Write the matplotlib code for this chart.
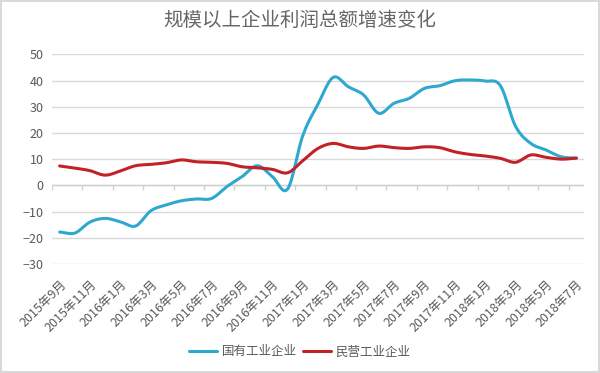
import matplotlib
matplotlib.use("Agg")
import matplotlib.pyplot as plt
import numpy as np

plt.rcParams['font.family'] = ['Noto Sans CJK SC', 'DejaVu Sans']

# monthly, 2015-9 .. 2018-7
months = ["2015年9月", "2015年10月", "2015年11月", "2015年12月",
          "2016年1月", "2016年2月", "2016年3月", "2016年4月", "2016年5月", "2016年6月",
          "2016年7月", "2016年8月", "2016年9月", "2016年10月", "2016年11月", "2016年12月",
          "2017年1月", "2017年2月", "2017年3月", "2017年4月", "2017年5月", "2017年6月",
          "2017年7月", "2017年8月", "2017年9月", "2017年10月", "2017年11月", "2017年12月",
          "2018年1月", "2018年2月", "2018年3月", "2018年4月", "2018年5月", "2018年6月",
          "2018年7月"]

soe = [-17.8, -18.2, -14.0, -12.6, -13.9, -15.5, -9.7, -7.5, -5.9, -5.2,
       -5.0, -0.5, 3.3, 7.5, 3.3, -1.4, 19.0, 31.0, 41.2, 37.6,
       34.5, 27.5, 31.3, 33.2, 37.0, 38.0, 39.9, 40.2, 39.8, 38.0,
       22.5, 16.0, 13.5, 10.9, 10.4]

private = [7.4, 6.6, 5.6, 3.9, 5.5, 7.5, 8.0, 8.6, 9.7, 9.0,
           8.8, 8.4, 7.1, 6.7, 6.1, 4.8, 9.4, 14.1, 16.0, 14.7,
           14.1, 15.0, 14.4, 14.1, 14.7, 14.4, 12.8, 11.8, 11.2, 10.3,
           8.8, 11.6, 10.7, 10.0, 10.4]

names = ["国有工业企业", "民营工业企业"]
colors = ["#2fa8d0", "#c42127"]


def smooth(y, n=12):
    # catmull-rom curve through the points, like Excel's smoothed line
    y = np.asarray(y, float)
    x = np.arange(len(y), dtype=float)
    P = np.concatenate([[2 * y[0] - y[1]], y, [2 * y[-1] - y[-2]]])
    xs, ys = [], []
    t = np.linspace(0, 1, n, endpoint=False)
    for i in range(len(y) - 1):
        p0, p1, p2, p3 = P[i], P[i + 1], P[i + 2], P[i + 3]
        seg = 0.5 * (2 * p1 + (-p0 + p2) * t + (2 * p0 - 5 * p1 + 4 * p2 - p3) * t ** 2
                     + (-p0 + 3 * p1 - 3 * p2 + p3) * t ** 3)
        xs.extend(x[i] + t)
        ys.extend(seg)
    xs.append(x[-1])
    ys.append(y[-1])
    return np.array(xs), np.array(ys)


fig = plt.figure(figsize=(6, 3.73), dpi=100)
ax = fig.add_axes([52 / 600, 1 - 264 / 373, 532 / 600, (264 - 54.3) / 373])

for vals, name, c in zip([soe, private], names, colors):
    sx, sy = smooth(vals)
    ax.plot(sx, sy, color=c, lw=2.2, label=name, solid_capstyle='round', zorder=3)

ax.set_xlim(-0.5, len(months) - 0.5)
ax.set_ylim(-30, 50)
ax.set_yticks(range(-30, 51, 10))
ax.grid(axis='y', color='#d9d9d9', lw=1)
ax.axhline(0, color='#d0d0d0', lw=1, zorder=2)
ax.vlines(np.arange(-0.5, len(months) - 1, 2), -1.9, 0, color='#d0d0d0', lw=1, zorder=2)

ax.set_xticks(range(0, len(months), 2))
ax.set_xticklabels(months[::2], rotation=45, ha='right', rotation_mode='anchor')
ax.tick_params(axis='x', length=0, pad=10, labelsize=9, labelcolor='#595959')
ax.tick_params(axis='y', length=0, pad=6, labelsize=9, labelcolor='#595959')
for s in ax.spines.values():
    s.set_visible(False)

fig.suptitle("规模以上企业利润总额增速变化", y=1 - 20 / 373, va='center',
             fontsize=14, color='#666666')
fig.legend(loc='center', bbox_to_anchor=(0.5, 1 - 352 / 373), ncol=2, frameon=False,
           fontsize=9, labelcolor='#595959', handlelength=2.2, handletextpad=0.4,
           columnspacing=0.5)

fig.patch.set_edgecolor('#d9d9d9')
fig.patch.set_linewidth(1.5)
fig.savefig("out.png", dpi=100, edgecolor=fig.get_edgecolor())
